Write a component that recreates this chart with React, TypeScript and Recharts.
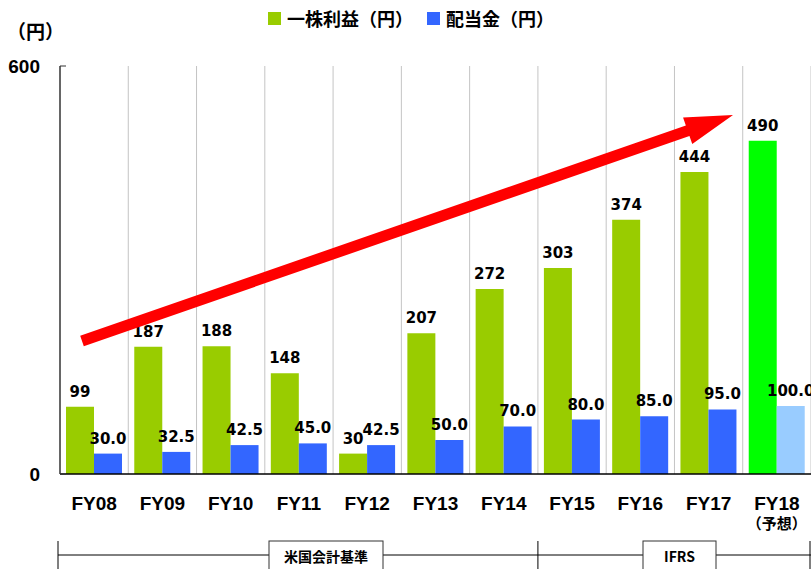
import { BarChart, Bar, XAxis, YAxis, CartesianGrid, LabelList, Cell } from 'recharts';

const categories = ['FY08', 'FY09', 'FY10', 'FY11', 'FY12', 'FY13', 'FY14', 'FY15', 'FY16', 'FY17', 'FY18'];
const subLabels = ['', '', '', '', '', '', '', '', '', '', '（予想）'];
const eps = [99, 187, 188, 148, 30, 207, 272, 303, 374, 444, 490];
const dividend = [30, 32.5, 42.5, 45, 42.5, 50, 70, 80, 85, 95, 100];
const forecast = [false, false, false, false, false, false, false, false, false, false, true];
const yTicks = [0, 600];

const seriesNames = { eps: '一株利益（円）', dividend: '配当金（円）' };
const unitLabel = '（円）';
const standards = [
  { label: '米国会計基準', from: 0, to: 7 },
  { label: 'IFRS', from: 7, to: 11 },
];

const EPS_COLOR = '#99cc00';
const EPS_FORECAST = '#00ff00';
const DIV_COLOR = '#3366ff';
const DIV_FORECAST = '#99ccff';

const data = categories.map((c, i) => ({
  name: c,
  sub: subLabels[i],
  eps: eps[i],
  dividend: dividend[i],
  forecast: forecast[i],
}));

const W = 811;
const H = 569;
const PLOT_LEFT = 60;
const PLOT_TOP = 66;
const PLOT_BOTTOM = 474;

const labelFont = "'DejaVu Sans', 'Noto Sans CJK JP', sans-serif";
const axisFont = "'Liberation Sans', Arial, 'Noto Sans CJK JP', sans-serif";
const cjkFont = "'Noto Sans CJK JP', 'Liberation Sans', sans-serif";

// eslint-disable-next-line @typescript-eslint/no-explicit-any
function CategoryTick(props: any) {
  const { x, y, payload, index } = props;
  const sub = subLabels[index] || '';
  return (
    <g>
      <text x={x} y={y + 36} textAnchor="middle" fontFamily={axisFont} fontWeight="bold" fontSize={19} fill="#000">
        {payload.value}
      </text>
      {sub && (
        <text x={x} y={y + 55} textAnchor="middle" fontFamily={cjkFont} fontWeight="bold" fontSize={15} fill="#000">
          {sub}
        </text>
      )}
    </g>
  );
}

function Arrow() {
  // trend arrow annotation
  const sx = 82, sy = 341;
  const tx = 733, ty = 115;
  const dx = tx - sx, dy = ty - sy;
  const len = Math.sqrt(dx * dx + dy * dy);
  const ux = dx / len, uy = dy / len;
  const nx = -uy, ny = ux;
  const headLen = 48, headHalf = 14, shaftHalf = 5.5;
  const bx = tx - ux * headLen, by = ty - uy * headLen;
  const pts = [
    [sx + nx * shaftHalf, sy + ny * shaftHalf],
    [bx + nx * shaftHalf, by + ny * shaftHalf],
    [bx + nx * headHalf, by + ny * headHalf],
    [tx, ty],
    [bx - nx * headHalf, by - ny * headHalf],
    [bx - nx * shaftHalf, by - ny * shaftHalf],
    [sx - nx * shaftHalf, sy - ny * shaftHalf],
  ];
  return <polygon points={pts.map((p) => p.join(',')).join(' ')} fill="#ff0000" />;
}

function Standards() {
  const band = (W - PLOT_LEFT) / categories.length;
  const lineY = 555;
  const boxes = [
    { x: 269, w: 114 },
    { x: 643, w: 73 },
  ];
  const dividers = [58, PLOT_LEFT + standards[0].to * band, W - 1];
  return (
    <g>
      <line x1={58} y1={lineY} x2={W} y2={lineY} stroke="#000" strokeWidth={1} />
      {dividers.map((x, i) => (
        <line key={i} x1={x} y1={541} x2={x} y2={H} stroke="#000" strokeWidth={1} />
      ))}
      {standards.map((s, i) => (
        <g key={s.label}>
          <rect x={boxes[i].x} y={541} width={boxes[i].w} height={40} fill="#fff" stroke="#333" strokeWidth={1} />
          <text
            x={boxes[i].x + boxes[i].w / 2}
            y={562}
            textAnchor="middle"
            fontFamily={cjkFont}
            fontWeight="bold"
            fontSize={14}
            fill="#000"
          >
            {s.label}
          </text>
        </g>
      ))}
    </g>
  );
}

export default function App() {
  return (
    <div style={{ position: 'absolute', left: 0, top: 0, width: W, height: H, background: '#fff' }}>
      <BarChart
        width={W}
        height={H}
        data={data}
        margin={{ top: PLOT_TOP, right: 0, left: 0, bottom: H - PLOT_BOTTOM - 60 }}
        barGap={0}
        barSize={28}
      >
        <CartesianGrid
          horizontal={false}
          stroke="#c4c4c4"
          verticalCoordinatesGenerator={({ offset }: any) =>
            categories.map((_, i) => offset.left + ((i + 1) * offset.width) / categories.length)
          }
        />
        <XAxis
          dataKey="name"
          height={60}
          tickLine={false}
          tickSize={0}
          tickMargin={0}
          interval={0}
          axisLine={{ stroke: '#000', strokeWidth: 1.5 }}
          tick={<CategoryTick />}
        />
        <YAxis
          width={PLOT_LEFT}
          domain={[0, 600]}
          ticks={yTicks}
          tickSize={-6}
          tickMargin={26}
          tickLine={{ stroke: '#333' }}
          axisLine={{ stroke: '#333', strokeWidth: 1.5 }}
          tick={{ fontFamily: axisFont, fontWeight: 'bold', fontSize: 19, fill: '#000' }}
        />
        <Bar dataKey="eps" name={seriesNames.eps} fill={EPS_COLOR} isAnimationActive={false}>
          {data.map((d) => (
            <Cell key={d.name} fill={d.forecast ? EPS_FORECAST : EPS_COLOR} />
          ))}
          <LabelList
            dataKey="eps"
            position="top"
            offset={10}
            style={{ fontFamily: labelFont, fontWeight: 'bold', fontSize: 15, fill: '#000' }}
          />
        </Bar>
        <Bar dataKey="dividend" name={seriesNames.dividend} fill={DIV_COLOR} isAnimationActive={false}>
          {data.map((d) => (
            <Cell key={d.name} fill={d.forecast ? DIV_FORECAST : DIV_COLOR} />
          ))}
          <LabelList
            dataKey="dividend"
            position="top"
            offset={10}
            formatter={(v: any) => Number(v).toFixed(1)}
            style={{ fontFamily: labelFont, fontWeight: 'bold', fontSize: 15, fill: '#000' }}
          />
        </Bar>
      </BarChart>

      <svg width={W} height={H} style={{ position: 'absolute', left: 0, top: 0, pointerEvents: 'none' }}>
        <Arrow />
        <Standards />
      </svg>

      <div
        style={{
          position: 'absolute',
          left: 7,
          top: 19,
          fontFamily: cjkFont,
          fontWeight: 'bold',
          fontSize: 19,
          lineHeight: '24px',
          color: '#000',
        }}
      >
        {unitLabel}
      </div>

      <div
        style={{
          position: 'absolute',
          left: 268,
          top: 6,
          display: 'flex',
          alignItems: 'center',
          fontFamily: cjkFont,
          fontWeight: 'bold',
          fontSize: 18,
          lineHeight: '24px',
          color: '#000',
        }}
      >
        <span style={{ width: 13, height: 13, background: EPS_COLOR, marginRight: 6, display: 'inline-block' }} />
        <span style={{ marginRight: 14 }}>{seriesNames.eps}</span>
        <span style={{ width: 13, height: 13, background: DIV_COLOR, marginRight: 6, display: 'inline-block' }} />
        <span>{seriesNames.dividend}</span>
      </div>
    </div>
  );
}
